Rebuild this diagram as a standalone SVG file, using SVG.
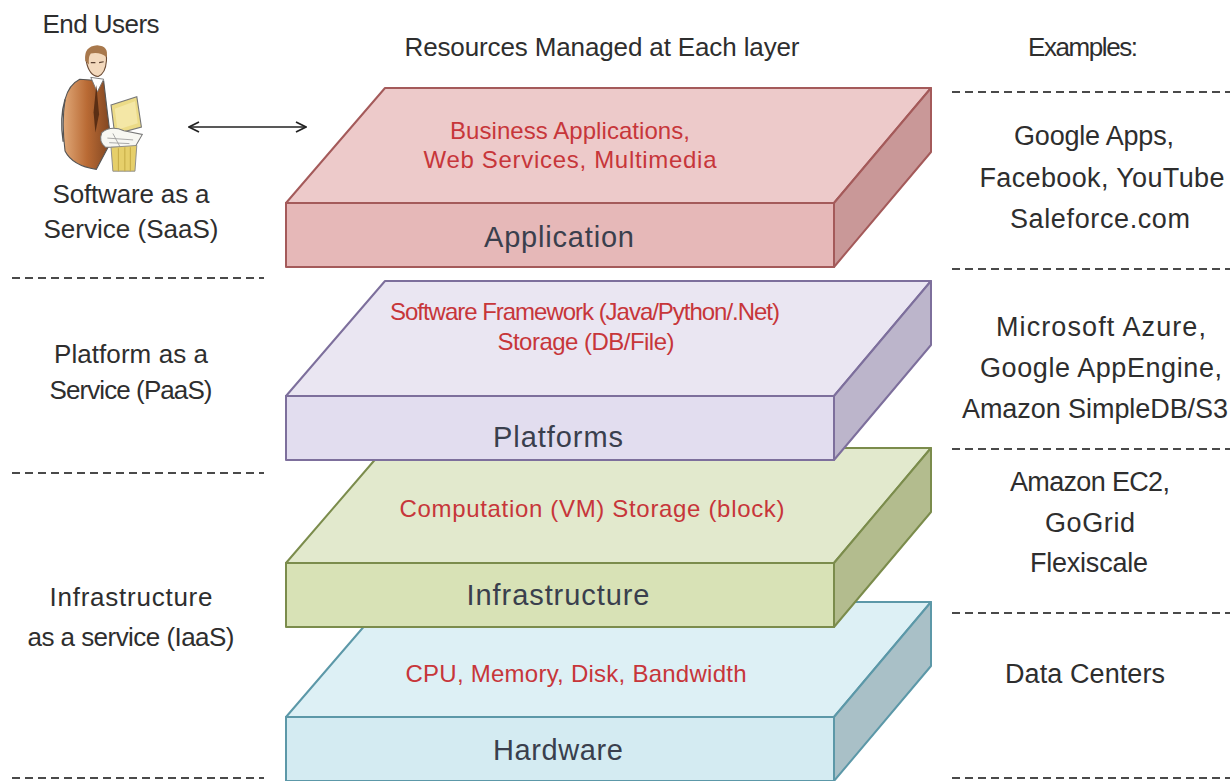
<svg xmlns="http://www.w3.org/2000/svg" width="1230" height="781" viewBox="0 0 1230 781">
<defs>
<style>
text{font-family:"Liberation Sans",Arial,sans-serif;}
.side{font-size:26px;fill:#2e2e2e;text-anchor:middle;}
.ex{font-size:27px;fill:#2e2e2e;text-anchor:middle;}
.red{font-size:24px;fill:#c7363a;text-anchor:middle;}
.lbl{font-size:29px;fill:#3a3f4d;text-anchor:middle;}
.dash{stroke:#4a4a4a;stroke-width:2;stroke-dasharray:8 5;fill:none;}
.app .top{fill:#edcaca}.app .front{fill:#e6b8b8}.app .side3{fill:#c99898}.app polygon,.app rect{stroke:#a45a5a;stroke-width:2;stroke-linejoin:round}
.plat .top{fill:#eae6f2}.plat .front{fill:#e2ddef}.plat .side3{fill:#bcb5cb}.plat polygon,.plat rect{stroke:#7d6f9c;stroke-width:2;stroke-linejoin:round}
.infra .top{fill:#e2e9cd}.infra .front{fill:#d8e2b6}.infra .side3{fill:#b3bc8e}.infra polygon,.infra rect{stroke:#7b8c4c;stroke-width:2;stroke-linejoin:round}
.hw .top{fill:#ddf0f5}.hw .front{fill:#d4ebf2}.hw .side3{fill:#a9c0c7}.hw polygon,.hw rect{stroke:#5c98a8;stroke-width:2;stroke-linejoin:round}
</style>
<marker id="chev" viewBox="0 0 12 12" refX="11" refY="6" markerWidth="12" markerHeight="12" markerUnits="userSpaceOnUse" orient="auto-start-reverse">
<path d="M1,1 L11,6 L1,11" fill="none" stroke="#222" stroke-width="1.8"/>
</marker>
<linearGradient id="suit" x1="0" y1="0" x2="1" y2="0">
<stop offset="0" stop-color="#e0a878"/><stop offset="0.5" stop-color="#b96a34"/><stop offset="1" stop-color="#7e4420"/>
</linearGradient>
</defs>
<rect width="1230" height="781" fill="#ffffff"/>

<!-- header texts -->
<g id="headers">
<text class="side" x="101" y="33" textLength="117">End Users</text>
<text class="side" x="602" y="56" textLength="395">Resources Managed at Each layer</text>
<text class="side" x="1083" y="56" textLength="110">Examples:</text>
</g>

<!-- end user figure -->
<g id="end-user-figure" transform="translate(100 47) scale(0.92) translate(-100 -47)">
<path d="M78,82 Q66,88 62,104 Q58,130 62,160 Q70,176 96,180 L112,150 L108,118 L104,84 Z" fill="url(#suit)" stroke="#555" stroke-width="1.2"/>
<path d="M62,104 Q56,124 60,150" fill="none" stroke="#555" stroke-width="1.5"/>
<path d="M90,80 L97,96 L104,82 Z" fill="#ffffff" stroke="#777" stroke-width="1"/>
<path d="M96,88 L99,120 L95,140 L93,118 Z" fill="#5a2e14"/>
<path d="M85,62 Q84,48 96,47 Q108,48 107,62 Q106,76 98,79 Q88,78 85,62 Z" fill="#f3d9bd" stroke="#6a4a34" stroke-width="1.2"/>
<path d="M84,62 Q82,46 97,45 Q110,46 107,58 Q100,52 90,54 Q87,58 88,66 Z" fill="#a8784c"/>
<path d="M90,64 L95,64 M99,64 L104,63" stroke="#5a4030" stroke-width="1.3"/>
<path d="M112,110 L140,101 L145,134 L116,142 Z" fill="#ecdb87" stroke="#777" stroke-width="1.2"/>
<path d="M116,114 L138,106 L141,130 L119,137 Z" fill="#f4e7a6"/>
<path d="M102,140 Q112,132 126,138 L146,142 L138,156 L106,156 Q98,150 102,140 Z" fill="#f7f7f2" stroke="#777" stroke-width="1.1"/>
<path d="M108,146 L136,148 M110,151 L132,152 M114,141 L122,156" stroke="#999" stroke-width="0.9"/>
<path d="M112,156 L140,154 L138,182 L114,182 Z" fill="#e6cf6a" stroke="#888" stroke-width="1"/>
<path d="M120,157 L120,182 M127,156 L127,182 M133,156 L133,182" stroke="#c8ad48" stroke-width="1.2"/>
</g>

<!-- connector -->
<g id="connectors">
<line x1="189" y1="127" x2="306" y2="127" stroke="#222" stroke-width="1.6" marker-start="url(#chev)" marker-end="url(#chev)"/>
</g>

<!-- dashed dividers -->
<g id="dividers">
<line class="dash" x1="12" y1="278" x2="264" y2="278"/>
<line class="dash" x1="12" y1="473" x2="264" y2="473"/>
<line class="dash" x1="12" y1="778" x2="264" y2="778"/>
<line class="dash" x1="952" y1="92" x2="1230" y2="92"/>
<line class="dash" x1="952" y1="269" x2="1230" y2="269"/>
<line class="dash" x1="952" y1="449" x2="1230" y2="449"/>
<line class="dash" x1="952" y1="613" x2="1230" y2="613"/>
<line class="dash" x1="952" y1="778" x2="1230" y2="778"/>
</g>

<!-- left service model labels -->
<g id="service-labels">
<text class="side" x="131" y="203" textLength="157">Software as a</text>
<text class="side" x="131" y="238" textLength="175">Service (SaaS)</text>
<text class="side" x="131" y="363" textLength="154">Platform as a</text>
<text class="side" x="131" y="399" textLength="163">Service (PaaS)</text>
<text class="side" x="131" y="606" textLength="163">Infrastructure</text>
<text class="side" x="131" y="646" textLength="207">as a service (IaaS)</text>
</g>

<!-- slabs (bottom to top) -->
<g id="hardware" class="hw">
<polygon class="top" points="385,602 931,602 834,717 286,717"/>
<polygon class="side3" points="834,717 931,602 931,666 834,781"/>
<rect class="front" x="286" y="717" width="548" height="64"/>
<text class="red" x="576" y="682" textLength="341">CPU, Memory, Disk, Bandwidth</text>
<text class="lbl" x="558" y="760" textLength="130">Hardware</text>
</g>

<g id="infrastructure" class="infra">
<polygon class="top" points="385,448 931,448 834,563 286,563"/>
<polygon class="side3" points="834,563 931,448 931,512 834,627"/>
<rect class="front" x="286" y="563" width="548" height="64"/>
<text class="red" x="592" y="517" textLength="385">Computation (VM)  Storage (block)</text>
<text class="lbl" x="558" y="605" textLength="183">Infrastructure</text>
</g>

<g id="platforms" class="plat">
<polygon class="top" points="385,281 931,281 834,396 286,396"/>
<polygon class="side3" points="834,396 931,281 931,345 834,460"/>
<rect class="front" x="286" y="396" width="548" height="64"/>
<text class="red" x="585" y="320" textLength="390">Software Framework (Java/Python/.Net)</text>
<text class="red" x="586" y="350" textLength="177">Storage (DB/File)</text>
<text class="lbl" x="558" y="447" textLength="130">Platforms</text>
</g>

<g id="application" class="app">
<polygon class="top" points="385,88 931,88 834,203 286,203"/>
<polygon class="side3" points="834,203 931,88 931,152 834,267"/>
<rect class="front" x="286" y="203" width="548" height="64"/>
<text class="red" x="570" y="139" textLength="240">Business Applications,</text>
<text class="red" x="570" y="168" textLength="293">Web Services,  Multimedia</text>
<text class="lbl" x="559" y="247" textLength="150">Application</text>
</g>

<!-- examples -->
<g id="examples">
<text class="ex" x="1094" y="145" textLength="160">Google Apps,</text>
<text class="ex" x="1102" y="187" textLength="245">Facebook, YouTube</text>
<text class="ex" x="1100" y="228" textLength="180">Saleforce.com</text>
<text class="ex" x="1101" y="336" textLength="210">Microsoft Azure,</text>
<text class="ex" x="1101" y="377" textLength="242">Google AppEngine,</text>
<text class="ex" x="1095" y="418" textLength="266">Amazon SimpleDB/S3</text>
<text class="ex" x="1090" y="491" textLength="160">Amazon EC2,</text>
<text class="ex" x="1090" y="532" textLength="90">GoGrid</text>
<text class="ex" x="1089" y="572" textLength="118">Flexiscale</text>
<text class="ex" x="1085" y="683" textLength="160">Data Centers</text>
</g>
</svg>
